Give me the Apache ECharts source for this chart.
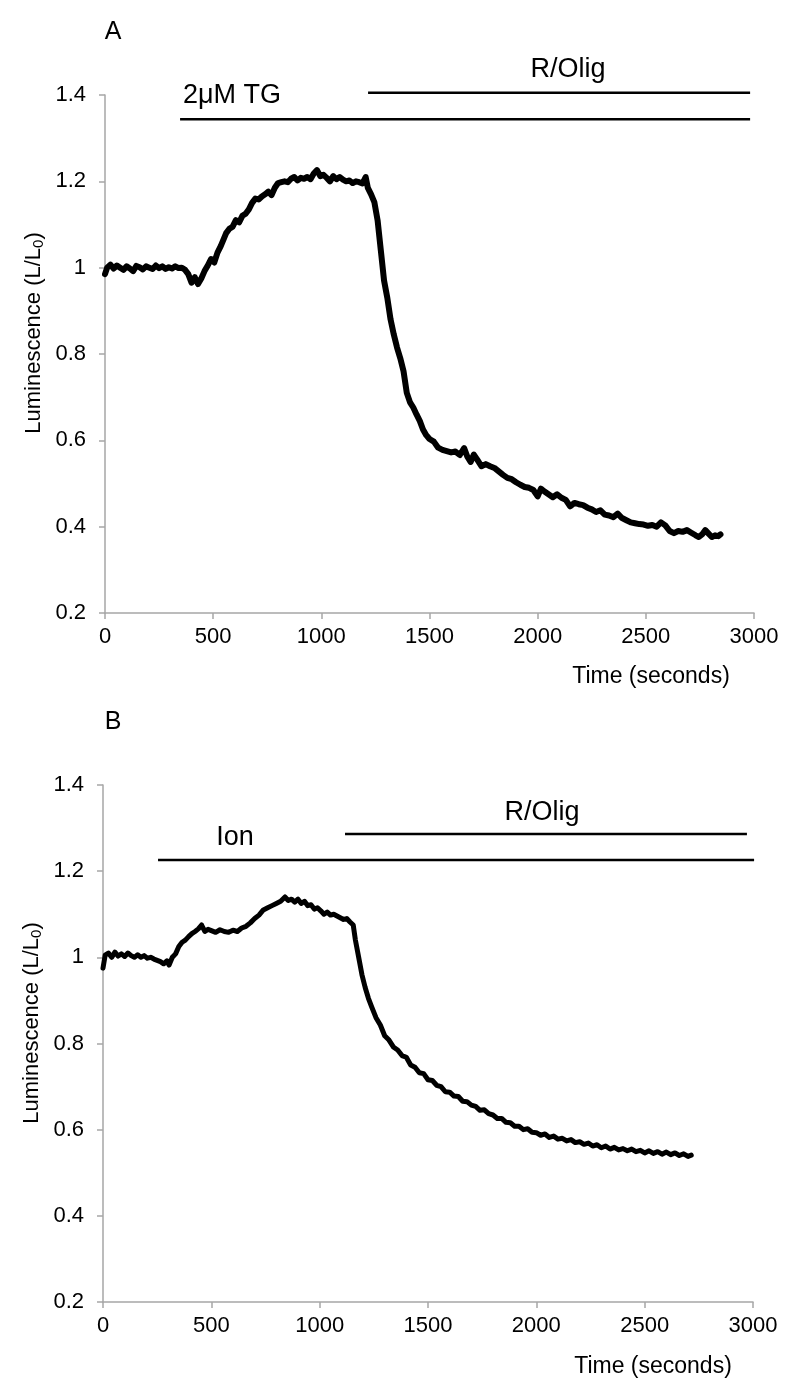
<!DOCTYPE html>
<html><head><meta charset="utf-8">
<script src="https://cdn.jsdelivr.net/npm/echarts@6/dist/echarts.min.js"></script>
<style>html,body{margin:0;padding:0;background:#fff}#c{width:800px;height:1400px}</style>
</head><body><div id="c"></div>
<script>
// Panel A: time (s) and luminescence L/L0
const timeA = [0,10,25,40,55,70,85,100,115,130,145,160,175,190,205,220,235,250,265,280,295,310,325,340,355,370,385,400,415,430,445,460,475,490,505,520,535,550,560,575,590,605,620,635,650,665,680,695,710,725,740,755,770,785,800,815,830,845,860,875,890,905,920,935,950,965,980,995,1010,1025,1040,1055,1070,1085,1100,1115,1130,1145,1160,1175,1190,1205,1215,1230,1245,1260,1275,1290,1305,1320,1335,1350,1365,1380,1395,1410,1425,1440,1455,1470,1485,1500,1520,1540,1560,1580,1600,1620,1640,1660,1675,1690,1705,1720,1740,1760,1780,1800,1820,1840,1860,1880,1900,1920,1940,1960,1980,2000,2015,2030,2050,2070,2090,2110,2130,2150,2170,2190,2210,2230,2250,2270,2290,2310,2330,2350,2370,2390,2410,2430,2450,2470,2490,2510,2530,2550,2570,2590,2610,2630,2650,2670,2690,2710,2730,2745,2760,2775,2790,2805,2820,2835,2845];
const lumA = [0.985,1.000,1.007,0.998,1.005,1.000,0.995,1.003,0.998,0.992,1.004,1.001,0.996,1.003,1.000,0.997,1.005,0.999,1.003,0.997,1.001,0.998,1.003,0.999,1.000,0.995,0.985,0.965,0.978,0.962,0.975,0.992,1.005,1.020,1.012,1.035,1.050,1.068,1.080,1.090,1.095,1.110,1.105,1.120,1.125,1.135,1.150,1.160,1.158,1.165,1.170,1.176,1.168,1.185,1.196,1.198,1.200,1.198,1.206,1.210,1.202,1.208,1.206,1.210,1.205,1.218,1.226,1.212,1.215,1.208,1.200,1.212,1.205,1.210,1.204,1.200,1.202,1.196,1.200,1.198,1.195,1.210,1.185,1.170,1.152,1.110,1.040,0.970,0.930,0.880,0.845,0.815,0.790,0.760,0.710,0.688,0.676,0.660,0.645,0.625,0.612,0.603,0.597,0.583,0.578,0.575,0.572,0.574,0.566,0.582,0.562,0.550,0.567,0.556,0.540,0.545,0.540,0.536,0.528,0.520,0.513,0.510,0.503,0.497,0.492,0.490,0.485,0.470,0.488,0.482,0.475,0.468,0.475,0.467,0.462,0.447,0.455,0.452,0.450,0.444,0.440,0.434,0.438,0.428,0.426,0.422,0.430,0.420,0.415,0.410,0.408,0.406,0.405,0.402,0.404,0.400,0.410,0.403,0.390,0.385,0.390,0.388,0.392,0.386,0.380,0.376,0.382,0.392,0.384,0.376,0.380,0.378,0.382];

// Panel B
const timeB = [0,10,25,40,55,70,85,100,115,130,145,160,175,190,205,220,235,250,265,280,295,305,320,335,350,365,380,395,410,425,440,455,470,485,500,520,540,560,580,600,620,640,660,680,700,720,740,760,780,800,820,840,855,870,885,900,915,930,945,960,975,990,1005,1020,1035,1050,1065,1080,1095,1110,1125,1140,1155,1165,1180,1195,1210,1225,1240,1260,1280,1300,1320,1340,1360,1380,1400,1420,1440,1460,1480,1500,1520,1540,1560,1580,1600,1620,1640,1660,1680,1700,1720,1740,1760,1780,1800,1820,1840,1860,1880,1900,1920,1940,1960,1980,2000,2020,2040,2060,2080,2100,2120,2140,2160,2180,2200,2220,2240,2260,2280,2300,2320,2340,2360,2380,2400,2420,2440,2460,2480,2500,2520,2540,2560,2580,2600,2620,2640,2660,2680,2700,2715];
const lumB = [0.975,1.005,1.010,1.000,1.012,1.003,1.008,1.002,1.010,1.004,1.000,1.006,1.000,1.004,0.998,1.000,0.996,0.993,0.990,0.985,0.992,0.982,1.000,1.008,1.025,1.035,1.040,1.048,1.055,1.060,1.066,1.075,1.060,1.065,1.062,1.058,1.064,1.060,1.058,1.063,1.060,1.068,1.072,1.080,1.090,1.098,1.110,1.115,1.120,1.125,1.130,1.140,1.132,1.135,1.128,1.135,1.125,1.130,1.120,1.122,1.112,1.115,1.108,1.100,1.105,1.098,1.100,1.096,1.092,1.088,1.090,1.082,1.075,1.040,1.000,0.960,0.930,0.905,0.885,0.860,0.843,0.818,0.808,0.792,0.785,0.772,0.768,0.750,0.745,0.732,0.730,0.716,0.714,0.703,0.700,0.688,0.687,0.678,0.677,0.666,0.665,0.657,0.654,0.645,0.646,0.637,0.634,0.626,0.626,0.617,0.616,0.608,0.608,0.600,0.602,0.594,0.593,0.587,0.590,0.582,0.585,0.578,0.580,0.574,0.577,0.570,0.572,0.566,0.569,0.562,0.565,0.558,0.562,0.555,0.559,0.553,0.556,0.551,0.555,0.549,0.552,0.546,0.551,0.545,0.549,0.543,0.548,0.542,0.546,0.540,0.544,0.538,0.541,0.534,0.536];

// Axis settings
const xMin = 0, xMax = 3000, xStep = 500;
const yMin = 0.2, yMax = 1.4, yStep = 0.2;

// Annotation bars: [start time, end time, level]
const barsA = [[347, 2982, 1.344], [1216, 2982, 1.405]];
const barsB = [[254, 3005, 1.226], [1117, 2972, 1.286]];
// Annotation labels: [text, time, level, align]
const labelsA = [['2μM TG', 360, 1.398, 'left'], ['R/Olig', 2140, 1.458, 'center']];
const labelsB = [['Ion', 609, 1.279, 'center'], ['R/Olig', 2026, 1.337, 'center']];

const FONT = "'Liberation Sans', Arial, sans-serif";
const axisGrey = '#a6a6a6';

function xAx(gi) {
  return {
    type: 'value', gridIndex: gi, min: xMin, max: xMax, interval: xStep,
    axisLine: {lineStyle: {color: axisGrey, width: 1.5}},
    axisTick: {show: true, length: 6, lineStyle: {color: axisGrey, width: 1.5}},
    axisLabel: {color: '#000', fontSize: 22, fontFamily: FONT, margin: 13, formatter: v => String(v)},
    splitLine: {show: false}
  };
}
function yAx(gi) {
  return {
    type: 'value', gridIndex: gi, min: yMin, max: yMax, interval: yStep,
    axisLine: {show: true, lineStyle: {color: axisGrey, width: 1.5}},
    axisTick: {show: true, length: 6, lineStyle: {color: axisGrey, width: 1.5}},
    axisLabel: {color: '#000', fontSize: 22, fontFamily: FONT, margin: 19, formatter: v => String(+v.toFixed(1))},
    splitLine: {show: false}
  };
}

const chart = echarts.init(document.getElementById('c'), null, {renderer: 'canvas'});
const option = {
  animation: false,
  backgroundColor: '#fff',
  grid: [
    {left: 105, top: 95, width: 649, height: 518},
    {left: 103, top: 785, width: 650, height: 517}
  ],
  xAxis: [xAx(0), xAx(1)],
  yAxis: [yAx(0), yAx(1)],
  series: [
    {type: 'line', xAxisIndex: 0, yAxisIndex: 0, showSymbol: false, clip: false,
     data: timeA.map((t, i) => [t, lumA[i]]), lineStyle: {color: '#000', width: 6, join: 'round', cap: 'round'}},
    {type: 'line', xAxisIndex: 1, yAxisIndex: 1, showSymbol: false, clip: false,
     data: timeB.map((t, i) => [t, lumB[i]]), lineStyle: {color: '#000', width: 5, join: 'round', cap: 'round'}}
  ]
};
chart.setOption(option);

// Build annotations from data coordinates
const g = [];
function addPanel(gi, bars, labels) {
  bars.forEach(b => {
    const p1 = chart.convertToPixel({gridIndex: gi}, [b[0], b[2]]);
    const p2 = chart.convertToPixel({gridIndex: gi}, [b[1], b[2]]);
    g.push({type: 'line', shape: {x1: p1[0], y1: p1[1], x2: p2[0], y2: p2[1]},
            style: {stroke: '#000', lineWidth: 2.5}});
  });
  labels.forEach(l => {
    const p = chart.convertToPixel({gridIndex: gi}, [l[1], l[2]]);
    g.push({type: 'text', x: p[0], y: p[1],
            style: {text: l[0], fill: '#000', font: '27px ' + FONT, textAlign: l[3], textVerticalAlign: 'middle'}});
  });
}
addPanel(0, barsA, labelsA);
addPanel(1, barsB, labelsB);

// Panel letters
g.push({type: 'text', x: 113, y: 32, style: {text: 'A', fill: '#000', font: '25px ' + FONT, textAlign: 'center', textVerticalAlign: 'middle'}});
g.push({type: 'text', x: 113, y: 722, style: {text: 'B', fill: '#000', font: '25px ' + FONT, textAlign: 'center', textVerticalAlign: 'middle'}});

// Axis titles
function yTitle(cx, cy) {
  return {type: 'text', x: cx, y: cy, rotation: Math.PI / 2,
    style: {text: 'Luminescence (L/L{s|0})', fill: '#000', font: '22px ' + FONT,
      textAlign: 'center', textVerticalAlign: 'middle',
      rich: {s: {fontSize: 15, fontFamily: FONT, fill: '#000', verticalAlign: 'bottom', padding: [10, 0, 0, 0]}}}};
}
g.push(yTitle(34, 333));
g.push(yTitle(32, 1023));
g.push({type: 'text', x: 651, y: 677, style: {text: 'Time (seconds)', fill: '#000', font: '23px ' + FONT, textAlign: 'center', textVerticalAlign: 'middle'}});
g.push({type: 'text', x: 653, y: 1367, style: {text: 'Time (seconds)', fill: '#000', font: '23px ' + FONT, textAlign: 'center', textVerticalAlign: 'middle'}});

chart.setOption({graphic: g});
</script>
</body></html>
